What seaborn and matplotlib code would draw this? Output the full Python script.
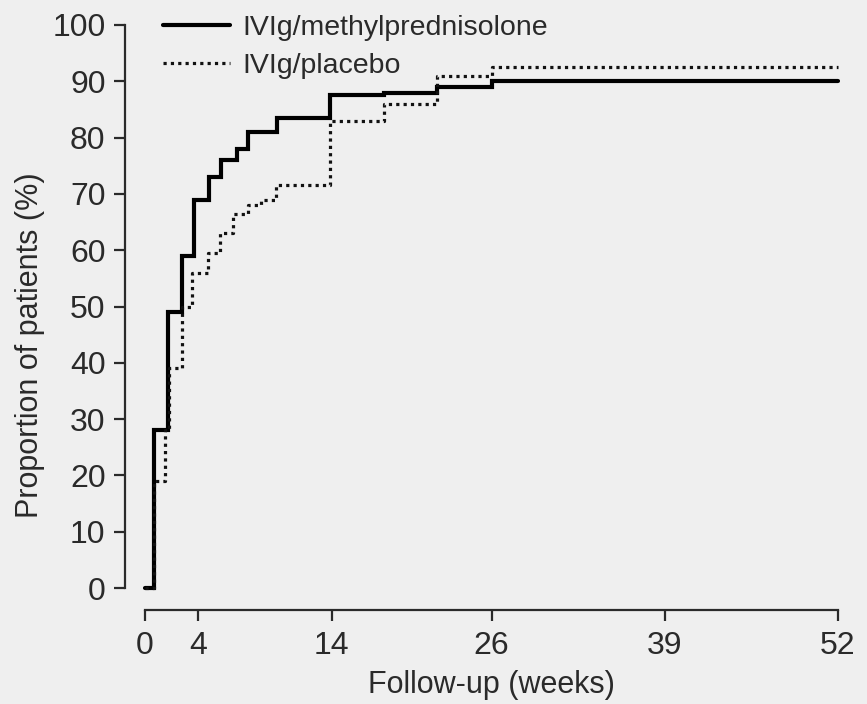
import numpy as np
import pandas as pd
import matplotlib
matplotlib.use("Agg")
import matplotlib.pyplot as plt
import seaborn as sns

# Kaplan-Meier style step data (weeks, % of patients)
weeks_mp = [0, 0.7, 1.75, 2.75, 3.7, 4.8, 5.7, 6.9, 7.75, 9.9, 13.9, 17.9, 21.9, 26.0, 52]
pct_mp = [0, 28, 49, 59, 69, 73, 76, 78, 81, 83.5, 87.5, 88, 89, 90, 90]

weeks_pl = [0, 0.7, 1.5, 1.8, 2.75, 3.5, 4.7, 5.6, 6.6, 7.7, 8.7, 9.8, 13.9, 17.9, 21.9, 26.0, 52]
pct_pl = [0, 19, 28, 39, 50, 56, 59.5, 63, 66.5, 68, 69, 71.5, 83, 86, 91, 92.5, 92.5]

labels = ["IVIg/methylprednisolone", "IVIg/placebo"]
xticks = [0, 4, 14, 26, 39, 52]
yticks = list(range(0, 101, 10))

df_mp = pd.DataFrame({"week": weeks_mp, "pct": pct_mp})
df_pl = pd.DataFrame({"week": weeks_pl, "pct": pct_pl})

sns.set_style("white")
plt.rcParams["font.family"] = ["Liberation Sans", "DejaVu Sans"]
bg = "#efefef"
ink = "#2a2a2a"

fig = plt.figure(figsize=(8.67, 7.04), dpi=100, facecolor=bg)
ax = fig.add_axes([145 / 867, 1 - 588 / 704, 693 / 867, 563 / 704])
ax.set_facecolor(bg)

sns.lineplot(data=df_mp, x="week", y="pct", ax=ax, color="black",
             drawstyle="steps-post", linewidth=3.0, label=labels[0],
             clip_on=False, solid_joinstyle="miter")
sns.lineplot(data=df_pl, x="week", y="pct", ax=ax, color="#111111",
             drawstyle="steps-post", linewidth=2.3, linestyle=(0, (1, 1.3)),
             label=labels[1], clip_on=False)

ax.set_xlim(0, 52)
ax.set_ylim(0, 100)
ax.set_xticks(xticks)
ax.set_yticks(yticks)

for side in ["top", "right"]:
    ax.spines[side].set_visible(False)
ax.spines["left"].set_position(("outward", 14.4))
ax.spines["bottom"].set_position(("outward", 15.8))
ax.spines["left"].set_bounds(0, 100)
ax.spines["bottom"].set_bounds(0, 52)
for side in ["left", "bottom"]:
    ax.spines[side].set_linewidth(1.6)
    ax.spines[side].set_color(ink)

ax.tick_params(axis="both", direction="out", length=8, width=1.6,
               color=ink, labelcolor=ink, labelsize=23,
               bottom=True, left=True)
ax.tick_params(axis="y", pad=6)
ax.tick_params(axis="x", pad=7)

ax.set_xlabel("Follow-up (weeks)", fontsize=22, color=ink)
ax.set_ylabel("Proportion of patients (%)", fontsize=22, color=ink)
ax.xaxis.set_label_coords(0.5, -0.146)
ax.yaxis.set_label_coords(-0.144, 0.432)

leg = ax.legend(loc="upper left", bbox_to_anchor=(0.026, 1.018), frameon=False,
                fontsize=20.5, handlelength=2.35, handletextpad=0.45,
                labelspacing=0.42, borderpad=0, borderaxespad=0)
for t in leg.get_texts():
    t.set_color(ink)

fig.savefig("out.png", dpi=100, facecolor=bg)
